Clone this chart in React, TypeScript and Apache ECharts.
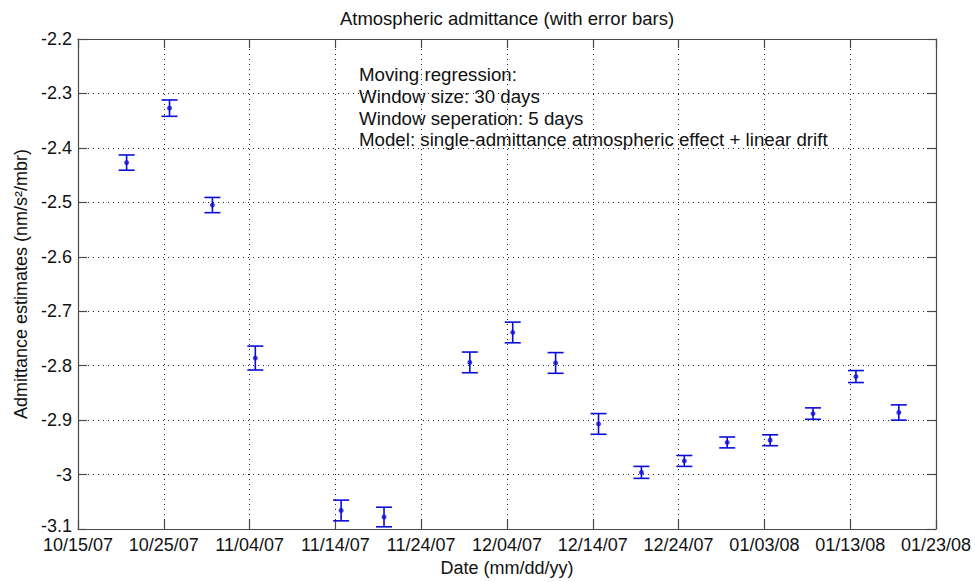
import React, { useEffect, useRef } from "react";
import * as echarts from "echarts";

// Window centre times of the moving regression (local clock, 16:00)
const DATES = [
  "2007-10-20T16:00", "2007-10-25T16:00", "2007-10-30T16:00", "2007-11-04T16:00",
  "2007-11-14T16:00", "2007-11-19T16:00", "2007-11-29T16:00", "2007-12-04T16:00",
  "2007-12-09T16:00", "2007-12-14T16:00", "2007-12-19T16:00", "2007-12-24T16:00",
  "2007-12-29T16:00", "2008-01-03T16:00", "2008-01-08T16:00", "2008-01-13T16:00",
  "2008-01-18T16:00",
];

// Admittance estimates (nm/s^2/mbr)
const ESTIMATES = [
  -2.427, -2.327, -2.505, -2.786, -3.066, -3.078, -2.794, -2.739,
  -2.795, -2.907, -2.996, -2.975, -2.941, -2.937, -2.888, -2.820, -2.886,
];

// Half-widths of the error bars
const ERRORS = [
  0.014, 0.015, 0.014, 0.022, 0.019, 0.018, 0.019, 0.019,
  0.019, 0.019, 0.011, 0.010, 0.010, 0.010, 0.0105, 0.011, 0.014,
];

const AXIS_START = "2007-10-15T00:00";
const AXIS_END = "2008-01-23T00:00";
const TICK_STEP_DAYS = 10;

const Y_MIN = -3.1;
const Y_MAX = -2.2;
const Y_STEP = 0.1;

const NOTE_LINES = [
  "Moving regression:",
  "Window size: 30 days",
  "Window seperation: 5 days",
  "Model: single-admittance atmospheric effect + linear drift",
];

const TITLE = "Atmospheric admittance (with error bars)";
const X_NAME = "Date (mm/dd/yy)";
const Y_NAME = "Admittance estimates (nm/s\u00B2/mbr)";

const DAY_MS = 86400000;

function parseUTC(s: string): number {
  const [d, t] = s.split("T");
  const [y, m, dd] = d.split("-").map(Number);
  const [hh, mm] = (t || "00:00").split(":").map(Number);
  return Date.UTC(y, m - 1, dd, hh, mm);
}

const BASE = parseUTC(AXIS_START);
const toDays = (s: string) => (parseUTC(s) - BASE) / DAY_MS;

function dayLabel(days: number): string {
  const d = new Date(BASE + Math.round(days) * DAY_MS);
  const mm = String(d.getUTCMonth() + 1).padStart(2, "0");
  const dd = String(d.getUTCDate()).padStart(2, "0");
  const yy = String(d.getUTCFullYear() % 100).padStart(2, "0");
  return `${mm}/${dd}/${yy}`;
}

const FONT = "Liberation Sans, Arial, Helvetica, sans-serif";
const BLUE = "#0c0cd8";
const FRAME = "#4a4a4a";

const GRID = { left: 78, right: 39, top: 39, bottom: 53 };
const WIDTH = 975;
const HEIGHT = 582;

export default function App() {
  const ref = useRef<HTMLDivElement>(null);

  useEffect(() => {
    if (!ref.current) return;
    const chart = echarts.init(ref.current, undefined, { renderer: "svg" });

    const xs = DATES.map(toDays);
    const xMax = toDays(AXIS_END);
    const points = xs.map((x, i) => [x, ESTIMATES[i]]);
    const bars = xs.map((x, i) => [x, ESTIMATES[i] - ERRORS[i], ESTIMATES[i] + ERRORS[i]]);

    const plotCenterX = GRID.left + (WIDTH - GRID.left - GRID.right) / 2;

    const xBase = {
      type: "value" as const,
      min: 0,
      max: xMax,
      interval: TICK_STEP_DAYS,
      axisLine: { show: true, onZero: false, lineStyle: { color: FRAME, width: 1.2 } },
      axisTick: { show: true, inside: true, length: 9, lineStyle: { color: FRAME, width: 1.2 } },
    };
    const yBase = {
      type: "value" as const,
      min: Y_MIN,
      max: Y_MAX,
      interval: Y_STEP,
      axisLine: { show: true, onZero: false, lineStyle: { color: FRAME, width: 1.2 } },
      axisTick: { show: true, inside: true, length: 9, lineStyle: { color: FRAME, width: 1.2 } },
    };

    const labelText = { fontFamily: FONT, fontSize: 18, color: "#111" };

    chart.setOption({
      animation: false,
      backgroundColor: "#ffffff",
      grid: { ...GRID, containLabel: false },
      xAxis: [
        {
          ...xBase,
          position: "bottom",
          name: X_NAME,
          nameLocation: "middle",
          nameGap: 30,
          nameTextStyle: labelText,
          axisLabel: {
            show: true,
            margin: 7,
            ...labelText,
            formatter: (v: number) => dayLabel(v),
          },
          splitLine: { show: true, lineStyle: { color: "#222", type: [1, 4], width: 1 } },
        },
        {
          ...xBase,
          position: "top",
          axisLabel: { show: false },
          splitLine: { show: false },
        },
      ],
      yAxis: [
        {
          ...yBase,
          position: "left",
          name: Y_NAME,
          nameLocation: "middle",
          nameRotate: 90,
          nameGap: 46,
          nameTextStyle: labelText,
          axisLabel: {
            show: true,
            margin: 6,
            ...labelText,
            formatter: (v: number) => {
              const s = String(+v.toFixed(1));
              // lowest label sits a little higher, clear of the date labels
              return Math.abs(v - Y_MIN) < 1e-9 ? `{lo|${s}}` : s;
            },
            rich: { lo: { ...labelText, padding: [0, 0, 6, 0] } },
          },
          splitLine: { show: true, lineStyle: { color: "#222", type: [1, 4], width: 1 } },
        },
        {
          ...yBase,
          position: "right",
          axisLabel: { show: false },
          splitLine: { show: false },
        },
      ],
      graphic: [
        {
          type: "text",
          x: plotCenterX,
          y: 18.5,
          style: {
            text: TITLE,
            font: `18.5px ${FONT}`,
            textAlign: "center",
            textVerticalAlign: "middle",
            fill: "#111",
          },
        },
        {
          type: "text",
          left: 359,
          top: 64,
          style: {
            text: NOTE_LINES.join("\n"),
            font: `18.7px ${FONT}`,
            lineHeight: 21.7,
            fill: "#111",
          },
        },
      ],
      series: [
        {
          type: "custom",
          xAxisIndex: 0,
          yAxisIndex: 0,
          data: bars,
          clip: false,
          renderItem: (_params: any, api: any) => {
            const x = api.value(0);
            const lo = api.coord([x, api.value(1)]);
            const hi = api.coord([x, api.value(2)]);
            const cap = 8;
            const style = { stroke: BLUE, lineWidth: 1.6, fill: "none" };
            return {
              type: "group",
              children: [
                { type: "line", shape: { x1: lo[0], y1: lo[1], x2: hi[0], y2: hi[1] }, style },
                { type: "line", shape: { x1: lo[0] - cap, y1: lo[1], x2: lo[0] + cap, y2: lo[1] }, style },
                { type: "line", shape: { x1: hi[0] - cap, y1: hi[1], x2: hi[0] + cap, y2: hi[1] }, style },
              ],
            };
          },
        },
        {
          type: "scatter",
          xAxisIndex: 0,
          yAxisIndex: 0,
          data: points,
          symbol: "circle",
          symbolSize: 5,
          itemStyle: { color: BLUE },
        },
      ],
    });

    return () => chart.dispose();
  }, []);

  return (
    <div
      ref={ref}
      style={{ position: "absolute", left: 0, top: 0, width: WIDTH, height: HEIGHT, background: "#fff" }}
    />
  );
}
